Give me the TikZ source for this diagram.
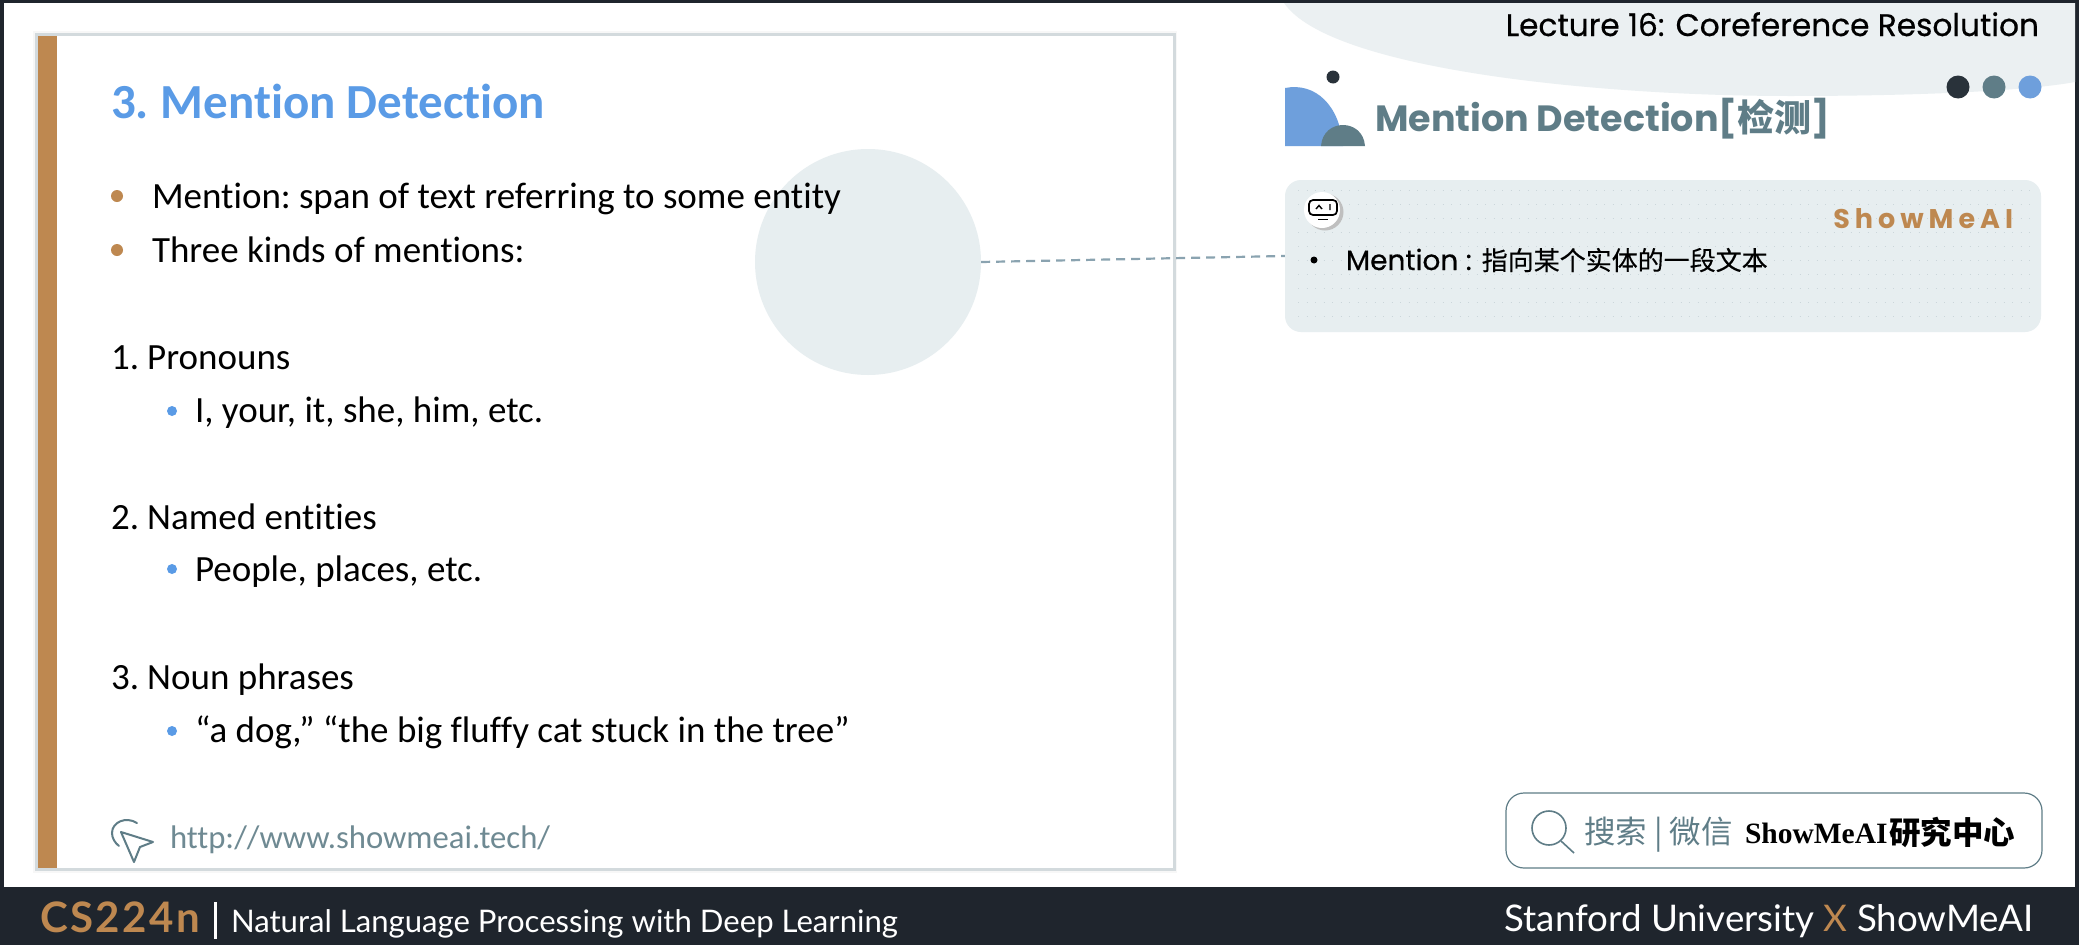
\documentclass[tikz,border=0pt]{standalone}
\usepackage{fontspec}
\setmainfont{Carlito}
\newfontfamily\carlito[Ligatures=NoCommon]{Carlito}
\newfontfamily\cjk{Noto Sans CJK SC}
\newfontfamily\cjkm[FakeBold=0.3]{Noto Sans CJK SC}
\newfontfamily\pop{Poppins}
\newfontfamily\popm[FakeBold=0.5]{Poppins}
\newfontfamily\lato{Lato}
\newfontfamily\latos[LetterSpace=6]{Lato}
\newfontfamily\serifb{Liberation Serif}
\definecolor{darkbar}{HTML}{1F252D}
\definecolor{orangec}{HTML}{BE8850}
\definecolor{bluec}{HTML}{5A9BE6}
\definecolor{tealc}{HTML}{5F7D87}
\definecolor{paleb}{HTML}{E7EEF0}
\definecolor{dashc}{HTML}{8AA3B0}
\definecolor{dotblue}{HTML}{6E9FDC}
\definecolor{panelrow}{HTML}{CBD6DA}
\definecolor{cardline}{HTML}{D3DADD}
\tikzset{
  txt/.style={inner sep=0pt,outer sep=0pt,anchor=base west},
  txtr/.style={inner sep=0pt,outer sep=0pt,anchor=base east},
  body/.style={txt,font=\carlito\fontsize{37}{40}\selectfont,text=black},
  orangedot/.style={circle,fill=orangec,inner sep=0pt,minimum size=12pt},
  bluedot/.style={circle,fill=bluec,inner sep=0pt,minimum size=10pt},
  linkline/.style={dashed,dash pattern=on 9pt off 6pt,color=dashc,line width=2.2pt},
  topdot/.style={circle,inner sep=0pt,minimum size=23pt},
}
\begin{document}
\begin{tikzpicture}[x=1pt,y=-1pt]
\useasboundingbox (0,0) rectangle (2079,945);
% page
\fill[darkbar] (0,0) rectangle (2079,945);
\fill[white] (4,3) rectangle (2075,887);
% top swoosh
\fill[paleb!85!white] (1284,3) .. controls (1330,70) and (1600,96) .. (1790,96) .. controls (1900,96) and (2020,92) .. (2075,82) -- (2075,3) -- cycle;
% card
\fill[black!3] (33,31) rectangle (1177,873);
\draw[color=cardline,line width=3pt] (36.5,34.5) rectangle (1174,869.5);
\fill[white] (38,36) rectangle (1173,868);
\fill[orangec] (38,36) rectangle (57,868);
% circle
\node[circle,fill=paleb,inner sep=0pt,minimum size=226pt] (circ) at (868,262) {};
% left text
\node[txt,font=\carlito\bfseries\fontsize{49}{52}\selectfont,text=bluec] (title) at (111,118) {3.\kern-3pt{} Mention Detection};
\node[orangedot] (b1) at (117,196) {};
\node[orangedot] (b2) at (117,250) {};
\node[body] (l1) at (152,208) {Mention:\kern-3pt{} span of text referring to some entity};
\node[body] (l2) at (152,262) {Three kinds of mentions:};
\node[body] (h1) at (111,369) {1.\kern-3pt{} Pronouns};
\node[bluedot] (b3) at (172,411) {};
\node[body] (s1) at (195,422) {I, your, it, she, him, etc.};
\node[body] (h2) at (111,529) {2.\kern-3pt{} Named entities};
\node[bluedot] (b4) at (172,569) {};
\node[body] (s2) at (195,581) {People, places, etc.};
\node[body] (h3) at (111,689) {3.\kern-3pt{} Noun phrases};
\node[bluedot] (b5) at (172,731) {};
\node[body] (s3) at (195,742) {“a dog,” “the big fluffy cat stuck in the tree”};
% url
\draw[color=tealc,line width=2pt,line join=round] (121,832) -- (153,842) -- (140,847) -- (134,862) -- cycle;
\draw[color=tealc,line width=2pt,line cap=round] (137,823) .. controls (126,816) and (112,822) .. (112,833) .. controls (112,838) and (115,843) .. (119,846);
\node[txt,font=\carlito\fontsize{32.7}{36}\selectfont,text=tealc!90!white] (url) at (170,848) {http://www.showmeai.tech/};
% header
\node[txtr,font=\popm\fontsize{31.2}{34}\selectfont,text=black] (lec) at (2039,36) {Lecture 16: Coreference Resolution};
\fill[darkbar!85!tealc] (1333,77) circle (6.5);
\fill[dotblue] (1285,146) -- (1285,88) .. controls (1315,82) and (1340,105) .. (1343,146) -- cycle;
\fill[tealc] (1321,146) .. controls (1323,118) and (1363,118) .. (1365,146) -- cycle;
\node[topdot,fill=darkbar!85!tealc] (d1) at (1958,87) {};
\node[topdot,fill=tealc] (d2) at (1994,87) {};
\node[topdot,fill=dotblue] (d3) at (2030,87) {};
\node[txt,font=\pop\bfseries\fontsize{36.5}{40}\selectfont,text=tealc] (mtitle) at (1375,131) {Mention Detection[{\cjk\bfseries\fontsize{37}{40}\selectfont 检测}]};
% panel
\node[draw=none,fill=paleb,rounded corners=16pt,minimum width=756pt,minimum height=152pt,inner sep=0pt] (panel) at (1663,256) {};
\foreach \rowy in {190,204,...,324}
  \draw[color=panelrow,line width=1pt,dash pattern=on 1pt off 7.5pt] (1298,\rowy) -- (2034,\rowy);
\draw[linkline] (circ.east) -- (panel.west);
\fill[black!25] (1325,212) circle (18.5);
\node[circle,fill=white,inner sep=0pt,minimum size=36pt] (robot) at (1322,210) {};
\draw[color=black,line width=1.7pt,rounded corners=4pt] (1309,200) rectangle (1337,215);
\draw[color=black,line width=1.4pt] (1316,209) -- (1319,205.5) -- (1322,209) (1330,204) -- (1330,210);
\draw[color=black,line width=1.7pt] (1318,219.5) -- (1328,219.5);
\node[txtr,font=\pop\bfseries\fontsize{27}{30}\selectfont,text=orangec] (brand) at (2013,228) {S\kern5pt h\kern5pt o\kern5pt w\kern5pt M\kern5pt e\kern5pt A\kern5pt I};
\node[circle,fill=black,inner sep=0pt,minimum size=7pt] (b6) at (1314,260) {};
\node[txt,font=\popm\fontsize{28}{30}\selectfont,text=black] (mline) at (1346,270) {Mention : {\cjkm\fontsize{26}{30}\selectfont 指向某个实体的一段文本}};
% search box
\node[draw=tealc,line width=1.2pt,rounded corners=18pt,fill=white,minimum width=536pt,minimum height=75pt,inner sep=0pt] (sbox) at (1774,830.5) {};
\draw[color=tealc,line width=1.6pt] (1549,828) circle (17);
\draw[color=tealc,line width=1.6pt] (1561,841) -- (1574,853);
\node[txt,font=\cjk\fontsize{31.5}{34}\selectfont,text=tealc] (sword) at (1584,843) {搜索 | 微信};
\node[txt,font=\serifb\bfseries\fontsize{29.5}{32}\selectfont,text=black] (sname) at (1745,843) {ShowMeAI};
\node[txt,font=\cjk\bfseries\fontsize{31.5}{34}\selectfont,text=black] (scn) at (1889,844) {研究中心};
% footer
\node[txt,font=\latos\bfseries\fontsize{42}{44}\selectfont,text=orangec] (cs) at (40,932) {CS224n};
\draw[white,line width=3pt] (215,902) -- (215,939);
\node[txt,font=\lato\fontsize{31.1}{36}\selectfont,text=white] (nlp) at (231,932) {Natural Language Processing with Deep Learning};
\node[txtr,font=\lato\fontsize{36.7}{40}\selectfont,text=white] (su) at (2034,931) {Stanford University {\color{orangec}X} ShowMeAI};
\end{tikzpicture}
\end{document}
